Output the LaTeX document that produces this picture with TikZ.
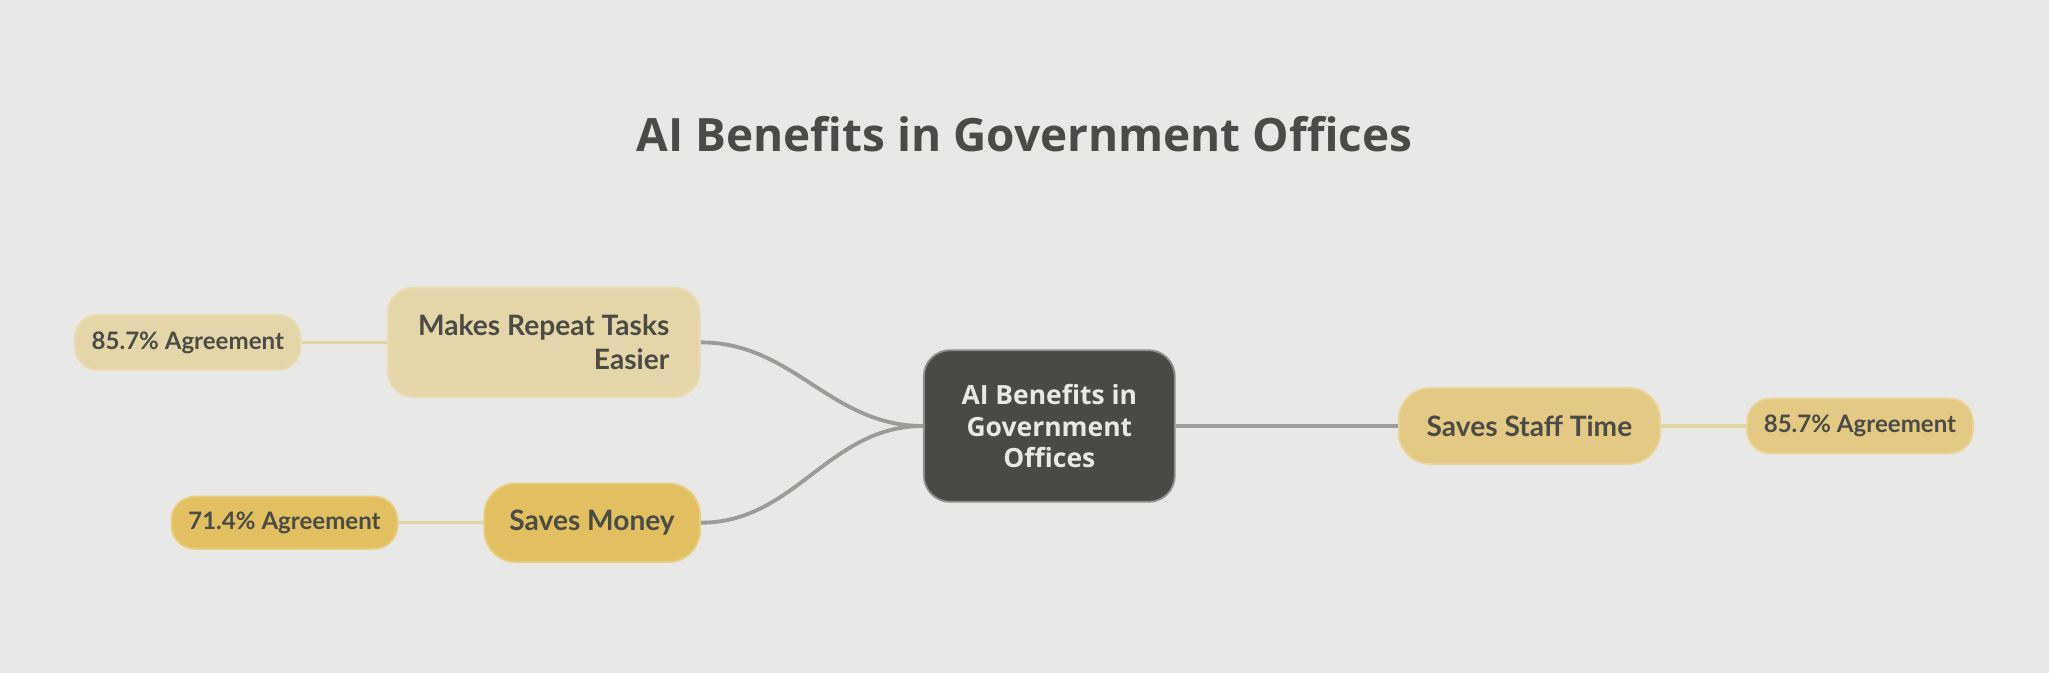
\documentclass[tikz,border=0pt]{standalone}
\usepackage{fontspec}
\setmainfont{Open Sans}
\newfontfamily\grenfont{Lato}
\usetikzlibrary{positioning}
\definecolor{bakgrunn}{HTML}{E8E8E6}
\definecolor{morktekst}{HTML}{4A4B45}
\definecolor{sentrumfyll}{HTML}{484A45}
\definecolor{sentrumkant}{HTML}{8E8E8A}
\definecolor{lysgul}{HTML}{E4D6A8}
\definecolor{lysgulkant}{HTML}{EADDB3}
\definecolor{mellomgul}{HTML}{E4C984}
\definecolor{mellomgulkant}{HTML}{EAD49A}
\definecolor{morkgul}{HTML}{E2BF60}
\definecolor{morkgulkant}{HTML}{E9CD80}
\definecolor{hovedlinjefarge}{HTML}{9B9B97}
\definecolor{grenlinjefarge}{HTML}{E4D4A2}

\begin{document}
\begin{tikzpicture}[%
tittel/.style={text=morktekst,font=\bfseries\fontsize{25pt}{29pt}\selectfont},
sentrum/.style={fill=sentrumfyll,draw=sentrumkant,line width=1pt,rounded corners=0.5cm,
  text=bakgrunn,align=center,minimum width=4.8cm,minimum height=2.9cm,
  font=\bfseries\fontsize{14.4pt}{17pt}\selectfont},
gren/.style={line width=1pt,text=morktekst,inner sep=0pt,
  font=\grenfont\bfseries\fontsize{15.3pt}{18.4pt}\selectfont},
blad/.style={gren,rounded corners=0.45cm,minimum width=4.325cm,minimum height=1.06cm,
  font=\grenfont\bfseries\fontsize{13.1pt}{16pt}\selectfont},
lys/.style={fill=lysgul,draw=lysgulkant},
mellom/.style={fill=mellomgul,draw=mellomgulkant},
mork/.style={fill=morkgul,draw=morkgulkant},
hovedlinje/.style={hovedlinjefarge,line width=2.1pt},
grenlinje/.style={grenlinjefarge,line width=1.8pt},
node distance=1.625cm]
\fill [bakgrunn] (0,0) rectangle (39.2,-12.875);
\node [tittel] (tittel) at (19.6,-2.575) {AI Benefits in Government Offices};
\node [sentrum] (midt) at (20.075,-8.15) {AI Benefits in\\Government\\Offices};
\node [gren,lys,rounded corners=0.5cm,align=right,minimum width=5.975cm,minimum height=2.1cm]
  (oppgaver) [left=4.25cm of midt, yshift=1.6cm] {Makes Repeat Tasks\\Easier};
\node [gren,mork,rounded corners=0.6cm,minimum width=4.125cm,minimum height=1.5cm]
  (penger) [left=4.25cm of midt, yshift=-1.85cm] {Saves Money};
\node [gren,mellom,rounded corners=0.6cm,minimum width=5cm,minimum height=1.45cm,
  font=\grenfont\bfseries\fontsize{15.3pt}{18.4pt}\selectfont]
  (tid) [right=4.25cm of midt] {Saves Staff Time};
\node [blad,lys] (enig1) [left=of oppgaver] {85.7\% Agreement};
\node [blad,mork,minimum height=1cm] (enig2) [left=of penger] {71.4\% Agreement};
\node [blad,mellom,minimum height=1.05cm] (enig3) [right=of tid] {85.7\% Agreement};
\draw [hovedlinje] (oppgaver.east) to[out=0,in=180] (midt.west);
\draw [hovedlinje] (penger.east)   to[out=0,in=180] (midt.west);
\draw [hovedlinje] (midt.east)     -- (tid.west);
\draw [grenlinje]  (oppgaver.west) -- (enig1.east);
\draw [grenlinje]  (penger.west)   -- (enig2.east);
\draw [grenlinje]  (tid.east)      -- (enig3.west);
\end{tikzpicture}
\end{document}
